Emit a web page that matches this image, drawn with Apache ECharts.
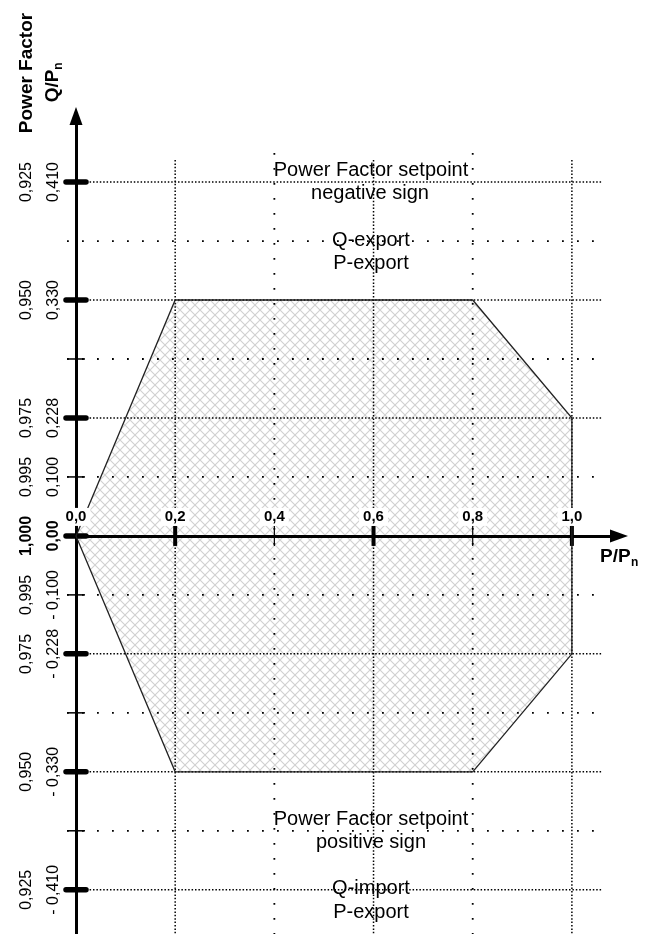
<!DOCTYPE html>
<html><head><meta charset="utf-8">
<script src="https://cdn.jsdelivr.net/npm/echarts@6/dist/echarts.min.js"></script>
<style>html,body{margin:0;padding:0;background:#fff}#chart{width:651px;height:934px}</style>
</head><body><div id="chart"></div>
<script>
// ---------------- data ----------------
const pTicks = [0.0, 0.2, 0.4, 0.6, 0.8, 1.0];
const pTickLabels = ['0,0', '0,2', '0,4', '0,6', '0,8', '1,0'];
// Q/Pn levels on the schematic axis, top to bottom (evenly spaced positions)
const qLevels = [0.410, null, 0.330, null, 0.228, 0.100, 0.000, -0.100, -0.228, null, -0.330, null, -0.410];
const qTickLabels = ['0,410', '', '0,330', '', '0,228', '0,100', '0,00', '- 0,100', '- 0,228', '', '- 0,330', '', '- 0,410'];
const pfTickLabels = ['0,925', '', '0,950', '', '0,975', '0,995', '1,000', '0,995', '0,975', '', '0,950', '', '0,925'];
// operating region (P/Pn, Q/Pn)
const regionP = [0.0, 0.2, 0.8, 1.0, 1.0, 0.8, 0.2];
const regionQ = [0.000, 0.330, 0.330, 0.228, -0.228, -0.330, -0.330];

// ---------------- style ----------------
const FONT = '"Liberation Sans", Arial, Helvetica, sans-serif';
const majorQ = [0.410, 0.330, 0.228, 0.000, -0.228, -0.330, -0.410];
const majorP = [0.2, 0.6, 1.0];
const noTickRows = [1];
const near = (a, b) => Math.abs(a - b) < 1e-9;
const topLevel = (qLevels.length - 1) / 2;
const levelOf = q => topLevel - qLevels.findIndex(v => v !== null && near(v, q));

function makeHatch() {
  const s = 10, c = document.createElement('canvas');
  c.width = s; c.height = s;
  const g = c.getContext('2d');
  g.strokeStyle = '#d0d0d0'; g.lineWidth = 1.1;
  g.beginPath();
  g.moveTo(-1, -1); g.lineTo(s + 1, s + 1);
  g.moveTo(s + 1, -1); g.lineTo(-1, s + 1);
  g.stroke();
  return c;
}
const hatch = makeHatch();

const chart = echarts.init(document.getElementById('chart'), null, { renderer: 'canvas' });

function renderRegion(params, api, outline) {
  const pts = regionP.map((p, k) => api.coord([p, levelOf(regionQ[k])]));
  return outline
    ? { type: 'polygon', shape: { points: pts }, style: { fill: null, stroke: '#222', lineWidth: 1.3 } }
    : { type: 'polygon', shape: { points: pts }, style: { fill: { image: hatch, repeat: 'repeat' }, stroke: null } };
}

const denseStyle = { stroke: '#000', lineWidth: 1.5, lineDash: [1.5, 1.9] };
const sparseStyle = { stroke: '#000', lineWidth: 1.8, lineDash: [1.8, 13.2] };

function renderRow(params, api) {
  const i = api.value(2);
  const L = topLevel - i;
  const q = qLevels[i];
  const [x0, y] = api.coord([0, L]);
  const kids = [];
  const isMajor = q !== null && majorQ.some(m => near(m, q));
  if (L !== 0) {
    if (isMajor) kids.push({ type: 'line', shape: { x1: x0, y1: y, x2: x0 + 527, y2: y }, style: denseStyle });
    else kids.push({ type: 'line', shape: { x1: x0 - 9, y1: y, x2: x0 + 519, y2: y }, style: sparseStyle });
  }
  if (isMajor) kids.push({ type: 'line', shape: { x1: x0 - 10, y1: y, x2: x0 + 10, y2: y }, style: { stroke: '#000', lineWidth: 5.5, lineCap: 'round' } });
  else if (noTickRows.indexOf(i) < 0) kids.push({ type: 'line', shape: { x1: x0 - 9, y1: y, x2: x0 + 9, y2: y }, style: { stroke: '#000', lineWidth: 1.5 } });
  const bold = q !== null && near(q, 0) ? 'bold ' : '';
  if (pfTickLabels[i]) kids.push({ type: 'text', x: x0 - 49, y: y, rotation: Math.PI / 2, style: { text: pfTickLabels[i], font: bold + '16px ' + FONT, fill: '#000', align: 'center', verticalAlign: 'middle' } });
  if (qTickLabels[i]) kids.push({ type: 'text', x: x0 - 22, y: y, rotation: Math.PI / 2, style: { text: qTickLabels[i], font: bold + '16px ' + FONT, fill: '#000', align: 'center', verticalAlign: 'middle' } });
  return { type: 'group', children: kids };
}

function renderCol(params, api) {
  const i = api.value(2);
  const p = pTicks[i];
  const [x, y0] = api.coord([p, 0]);
  const kids = [];
  const isMajor = majorP.some(m => near(m, p));
  if (i !== 0) {
    if (isMajor) kids.push({ type: 'line', shape: { x1: x, y1: 160, x2: x, y2: 934 }, style: denseStyle });
    else kids.push({ type: 'line', shape: { x1: x, y1: 153, x2: x, y2: 934 }, style: sparseStyle });
    kids.push({ type: 'line', shape: { x1: x, y1: y0 - 10, x2: x, y2: y0 + 10 }, style: { stroke: '#000', lineWidth: isMajor ? 4 : 1.2 } });
  }
  return { type: 'group', children: kids };
}

function renderColLabel(params, api) {
  const i = api.value(2);
  const [x, y0] = api.coord([pTicks[i], 0]);
  return { type: 'text', x: x, y: y0 - 19, style: { text: pTickLabels[i], font: 'bold 15px ' + FONT, fill: '#000', align: 'center', verticalAlign: 'middle', backgroundColor: '#fff', padding: [2, 4, 1, 4] } };
}

const axisLineStyle = { color: '#000', width: 3 };
const option = {
  animation: false,
  backgroundColor: '#fff',
  grid: { left: 76, right: 32, top: 116, bottom: 0, containLabel: false },
  xAxis: {
    type: 'value', min: 0, max: 1.095, z: 3,
    axisLine: { show: true, onZero: true, symbol: ['none', 'triangle'], symbolSize: [13, 18], lineStyle: axisLineStyle },
    axisTick: { show: false }, axisLabel: { show: false }, splitLine: { show: false }
  },
  yAxis: {
    type: 'value', min: -6.75, max: 7.12, z: 3,
    axisLine: { show: true, onZero: true, symbol: ['none', 'triangle'], symbolSize: [13, 18], lineStyle: axisLineStyle },
    axisTick: { show: false }, axisLabel: { show: false }, splitLine: { show: false }
  },
  series: [
    { type: 'custom', z: 1, silent: true, clip: false, data: [[0, 0, 0]], encode: { x: 0, y: 1 },
      renderItem: (p, a) => renderRegion(p, a, false) },
    { type: 'custom', z: 2, silent: true, clip: false, data: qLevels.map((q, i) => [0, 0, i]), encode: { x: 0, y: 1 },
      renderItem: renderRow },
    { type: 'custom', z: 2, silent: true, clip: false, data: pTicks.map((p, i) => [0, 0, i]), encode: { x: 0, y: 1 },
      renderItem: renderCol },
    { type: 'custom', z: 4, silent: true, clip: false, data: [[0, 0, 0]], encode: { x: 0, y: 1 },
      renderItem: (p, a) => renderRegion(p, a, true) },
    { type: 'custom', z: 6, silent: true, clip: false, data: pTicks.map((p, i) => [0, 0, i]), encode: { x: 0, y: 1 },
      renderItem: renderColLabel }
  ],
  graphic: [
    { type: 'text', x: 27, y: 73, rotation: Math.PI / 2, style: { text: 'Power Factor', font: 'bold 19px ' + FONT, fill: '#000', align: 'center', verticalAlign: 'middle' } },
    { type: 'text', x: 53, y: 86, rotation: Math.PI / 2, style: { text: 'Q/P', font: 'bold 19px ' + FONT, fill: '#000', align: 'center', verticalAlign: 'middle' } },
    { type: 'text', x: 59, y: 66, rotation: Math.PI / 2, style: { text: 'n', font: 'bold 12px ' + FONT, fill: '#000', align: 'center', verticalAlign: 'middle' } },
    { type: 'text', x: 600, y: 557, style: { text: 'P/P', font: 'bold 19px ' + FONT, fill: '#000', align: 'left', verticalAlign: 'middle' } },
    { type: 'text', x: 631, y: 563, style: { text: 'n', font: 'bold 12px ' + FONT, fill: '#000', align: 'left', verticalAlign: 'middle' } },
    { type: 'text', x: 371, y: 170, style: { text: 'Power Factor setpoint', font: '20px ' + FONT, fill: '#000', align: 'center', verticalAlign: 'middle' } },
    { type: 'text', x: 370, y: 193, style: { text: 'negative sign', font: '20px ' + FONT, fill: '#000', align: 'center', verticalAlign: 'middle' } },
    { type: 'text', x: 371, y: 240, style: { text: 'Q-export', font: '20px ' + FONT, fill: '#000', align: 'center', verticalAlign: 'middle' } },
    { type: 'text', x: 371, y: 263, style: { text: 'P-export', font: '20px ' + FONT, fill: '#000', align: 'center', verticalAlign: 'middle' } },
    { type: 'text', x: 371, y: 819, style: { text: 'Power Factor setpoint', font: '20px ' + FONT, fill: '#000', align: 'center', verticalAlign: 'middle' } },
    { type: 'text', x: 371, y: 842, style: { text: 'positive sign', font: '20px ' + FONT, fill: '#000', align: 'center', verticalAlign: 'middle' } },
    { type: 'text', x: 371, y: 888, style: { text: 'Q-import', font: '20px ' + FONT, fill: '#000', align: 'center', verticalAlign: 'middle' } },
    { type: 'text', x: 371, y: 912, style: { text: 'P-export', font: '20px ' + FONT, fill: '#000', align: 'center', verticalAlign: 'middle' } }
  ]
};
chart.setOption(option);
</script>
</body></html>
